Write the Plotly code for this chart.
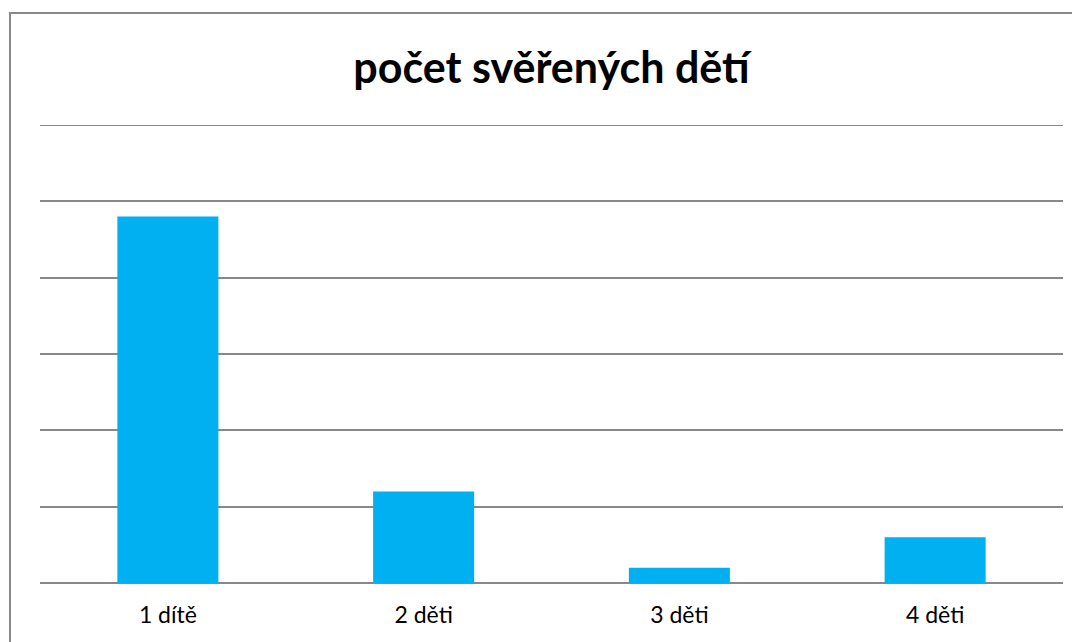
import plotly.graph_objects as go

categories = ["1 dítě", "2 děti", "3 děti", "4 děti"]
values = [24, 6, 1, 3]
title_text = "počet svěřených dětí"

W, H = 1080, 642
OFF = 8  # page body margin offset
L, R, T, B = 40 - OFF, 17 + OFF, 125 - OFF, 59 + OFF
pw, ph = W - L - R, H - T - B

fig = go.Figure(go.Bar(
    x=categories, y=values,
    marker=dict(color="#00B0F0", line=dict(width=0)),
    width=0.395,
    hoverinfo="x+y",
))

fig.update_layout(
    width=W, height=H,
    margin=dict(l=L, r=R, t=T, b=B),
    paper_bgcolor="white", plot_bgcolor="white",
    showlegend=False,
    title=dict(text="<b>" + title_text + "</b>", x=(L + pw / 2) / W, xanchor="center",
               y=1 - (68 - OFF) / H, yanchor="middle",
               font=dict(family="Lato, Open Sans, sans-serif", size=43, color="#000000")),
    xaxis=dict(showgrid=False, showline=False, ticks="", ticklabelstandoff=16,
               tickfont=dict(family="Lato, Open Sans, sans-serif", size=23, color="#000000")),
    yaxis=dict(range=[0, 30], dtick=5, showgrid=True, gridcolor="#888888", gridwidth=1.5,
               showticklabels=False, zeroline=True, zerolinecolor="#888888", zerolinewidth=1.5,
               showline=False, ticks=""),
)

# top gridline at y=30
fig.add_shape(type="line", xref="paper", yref="y", x0=0, x1=1, y0=30, y1=30,
              line=dict(color="#888888", width=2), layer="below")

# outer chart border (left and top visible; extends beyond canvas)
fig.add_shape(type="rect", xref="paper", yref="paper",
              x0=(10 - OFF - L) / pw, x1=(W + 40 - L) / pw,
              y0=-(B + 40) / ph, y1=(H - B - (13 - OFF)) / ph,
              line=dict(color="#888888", width=2), layer="below")

fig.write_html("out.html")
